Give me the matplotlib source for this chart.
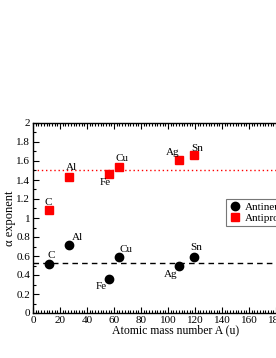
import matplotlib
matplotlib.use("Agg")
import matplotlib.pyplot as plt
from matplotlib.ticker import MultipleLocator

elements = ["C", "Al", "Fe", "Cu", "Ag", "Sn"]
mass_A = [12, 27, 56, 63.5, 108, 119]
antineutron_alpha = [0.52, 0.72, 0.36, 0.59, 0.49, 0.59]
antiproton_alpha = [1.08, 1.43, 1.46, 1.54, 1.61, 1.66]
antineutron_mean = 0.53
antiproton_mean = 1.5

# label offsets in pixels (style)
n_off = [(2, 8), (8, 7), (-7, -8), (7, 7), (-8, -8), (3, 9)]
p_off = [(-1, 8), (2, 10), (-3, -8), (3, 8), (-6, 8), (4, 7)]

plt.rcParams['font.family'] = ['Liberation Serif', 'DejaVu Serif']
fig = plt.figure(figsize=(2.76, 3.58), dpi=100)
ax = fig.add_axes([33/276, 45/358, 270/276, 190/358])

ax.axhline(antineutron_mean, color='black', ls=(0, (4, 3)), lw=1.0, zorder=1)
ax.axhline(antiproton_mean, color='red', ls=(0, (1, 2)), lw=1.0, zorder=1)
ax.plot(mass_A, antineutron_alpha, 'o', color='black', ms=6, label='Antineutrons', zorder=3)
ax.plot(mass_A, antiproton_alpha, 's', color='red', ms=5.5, label='Antiprotons', zorder=3)

for el, x, y, off in zip(elements, mass_A, antineutron_alpha, n_off):
    ax.annotate(el, (x, y), xytext=off, textcoords='offset pixels',
                ha='center', va='center', fontsize=8)
for el, x, y, off in zip(elements, mass_A, antiproton_alpha, p_off):
    ax.annotate(el, (x, y), xytext=off, textcoords='offset pixels',
                ha='center', va='center', fontsize=8)

ax.set_xlim(0, 200)
ax.set_ylim(0, 2)
ax.xaxis.set_major_locator(MultipleLocator(20))
ax.xaxis.set_minor_locator(MultipleLocator(2))
ax.yaxis.set_major_locator(MultipleLocator(0.2))
ax.yaxis.set_minor_locator(MultipleLocator(0.1))
ax.set_yticks([0, 0.2, 0.4, 0.6, 0.8, 1, 1.2, 1.4, 1.6, 1.8, 2])
ax.set_yticklabels(["0", "0.2", "0.4", "0.6", "0.8", "1", "1.2", "1.4", "1.6", "1.8", "2"])
ax.tick_params(which='both', direction='in', top=True, right=True, labelsize=8, pad=2, width=0.8)
ax.tick_params(which='major', length=4)
ax.tick_params(which='minor', length=2)
for s in ax.spines.values():
    s.set_linewidth(1.0)

ax.set_xlabel("Atomic mass number A (u)", fontsize=8.5)
ax.xaxis.set_label_coords((176 - 33) / 270, -0.058)
ax.set_ylabel("α exponent", fontsize=9, labelpad=0)

leg = fig.legend(loc='upper left', bbox_to_anchor=(226/276, 1 - 199/358),
                 fontsize=8, frameon=True, fancybox=False, edgecolor='#555555',
                 borderpad=0.3, handletextpad=0.4, labelspacing=0.1, handlelength=1.0,
                 borderaxespad=0)
leg.get_frame().set_linewidth(0.8)

fig.savefig("out.png", dpi=100)
